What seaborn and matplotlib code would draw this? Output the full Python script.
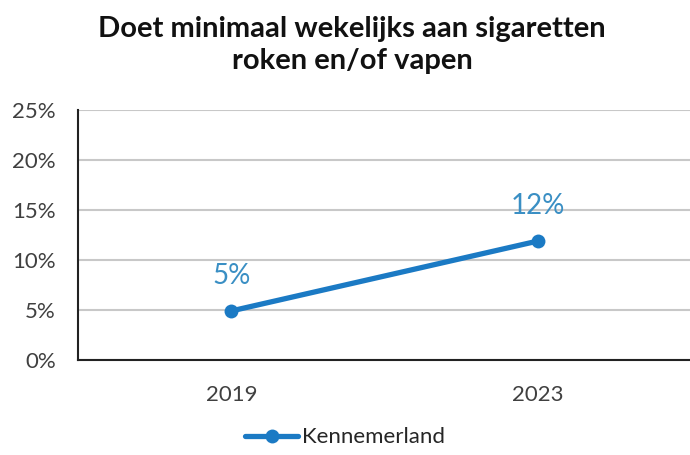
import pandas as pd
import seaborn as sns
import matplotlib.pyplot as plt
from matplotlib.ticker import PercentFormatter

years = ['2019', '2023']
values = [4.9, 11.9]
region = 'Kennemerland'

line_color = '#1b7ac4'
label_color = '#3a8fc4'

df = pd.DataFrame({'jaar': years, 'waarde': values, 'regio': region})

sns.set_style('white')
plt.rcParams['font.family'] = ['Lato', 'DejaVu Sans']

fig, ax = plt.subplots(figsize=(6.9, 4.55), dpi=100)
fig.subplots_adjust(left=0.113, right=1.002, top=0.758, bottom=0.209)

sns.lineplot(data=df, x='jaar', y='waarde', hue='regio', palette=[line_color],
             marker='o', markersize=10, markeredgewidth=0, linewidth=3.8, ax=ax)

for x, v in zip(years, values):
    ax.annotate(f'{round(v)}%', (x, v), xytext=(0, 16), textcoords='offset points',
                ha='center', va='bottom', fontsize=20, color=label_color)

ax.set_xlim(-0.5, 1.5)
ax.set_ylim(0, 25)
ax.set_yticks([0, 5, 10, 15, 20, 25])
ax.yaxis.set_major_formatter(PercentFormatter(decimals=0))
ax.grid(axis='y', color='#c8c8c8', linewidth=1.5)
ax.set_axisbelow(True)
ax.set_xlabel('')
ax.set_ylabel('')
ax.tick_params(axis='both', labelsize=16, colors='#404040', length=0)
ax.tick_params(axis='x', pad=18)
ax.tick_params(axis='y', pad=16)

for side in ['top', 'right']:
    ax.spines[side].set_visible(False)
for side in ['left', 'bottom']:
    ax.spines[side].set_color('#222222')
    ax.spines[side].set_linewidth(1.5)

ax.legend(loc='upper center', bbox_to_anchor=(0.435, -0.19), frameon=False,
          fontsize=16, handlelength=2.4, handletextpad=0.15)

fig.suptitle('Doet minimaal wekelijks aan sigaretten\nroken en/of vapen',
             fontsize=21, fontweight='bold', x=0.51, y=0.965, color='#111111',
             linespacing=1.3)

fig.savefig('out.png', dpi=100)
